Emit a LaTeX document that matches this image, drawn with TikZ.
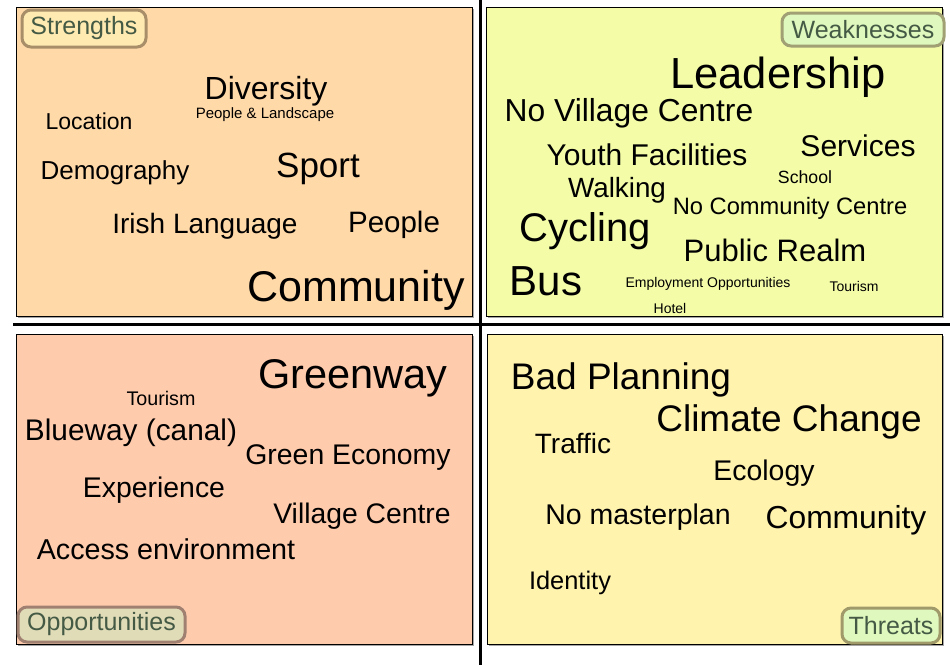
\documentclass[tikz,border=0pt]{standalone}
\usepackage{fontspec}
\setmainfont{Liberation Sans}
\begin{document}
\begin{tikzpicture}[x=1pt,y=-1pt,
  word/.style={inner sep=0pt, anchor=base, text=black},
  quad/.style={draw=black, line width=1pt},
  tag/.style={draw, line width=3pt, rounded corners=9pt, inner sep=0pt, text=tagtext, font=\fontsize{25}{25}\selectfont},
  sep/.style={line width=3.5pt, draw=black}
]
\definecolor{qS}{HTML}{FFD9A8}
\definecolor{qW}{HTML}{F4FCA8}
\definecolor{qO}{HTML}{FFCBAD}
\definecolor{qT}{HTML}{FFF3AE}
\definecolor{tagtext}{HTML}{455A45}
\useasboundingbox (0,0) rectangle (950,665);
\fill[white] (0,0) rectangle (950,665);
% shadows
\foreach \a/\b/\c/\d in {16/7/472/316, 486/7/942/316, 16/334/472/644, 487/334/942/644}
  \fill[black!35] (\a+1.5,\b+1.5) rectangle (\c+1.5,\d+1.5);
% quadrants
\draw[quad, fill=qS] (16,7) rectangle (472,316);
\draw[quad, fill=qW] (486,7) rectangle (942,316);
\draw[quad, fill=qO] (16,334) rectangle (472,644);
\draw[quad, fill=qT] (487,334) rectangle (942,644);
% separators
\coordinate (vt) at (480.5,0);
\coordinate (vb) at (480.5,665);
\coordinate (hl) at (13,324.5);
\coordinate (hr) at (950,324.5);
\draw[sep] (vt) -- (vb);
\draw[sep] (hl) -- (hr);
% tags
\node[tag, draw={rgb,255:red,168;green,143;blue,106}, fill={rgb,255:red,255;green,234;blue,178}, minimum width=124pt, minimum height=37pt] (tS) at (84,28.5) {Strengths};
\node[tag, draw={rgb,255:red,160;green,160;blue,116}, fill={rgb,255:red,222;green,248;blue,190}, minimum width=162pt, minimum height=33pt] (tW) at (863,29.5) {Weaknesses};
\node[tag, draw={rgb,255:red,160;green,128;blue,112}, fill={rgb,255:red,224;green,220;blue,184}, minimum width=167pt, minimum height=35pt] (tO) at (101.5,624.5) {Opportunities};
\node[tag, draw={rgb,255:red,160;green,154;blue,106}, fill={rgb,255:red,222;green,248;blue,190}, minimum width=98pt, minimum height=35pt] (tT) at (891,625.5) {Threats};
% Strengths
\node[word, text depth=0pt, font=\fontsize{32}{32}\selectfont] (s1) at (266,99.5) {Diversity};
\node[word, font=\fontsize{15}{15}\selectfont] (s2) at (265,118) {People \& Landscape};
\node[word, font=\fontsize{23}{23}\selectfont] (s3) at (89,129) {Location};
\node[word, font=\fontsize{26}{26}\selectfont] (s4) at (115,179) {Demography};
\node[word, font=\fontsize{35}{35}\selectfont] (s5) at (318,177.6) {Sport};
\node[word, font=\fontsize{28}{28}\selectfont] (s6) at (205,233) {Irish Language};
\node[word, font=\fontsize{29.5}{29.5}\selectfont] (s7) at (394,232.6) {People};
\node[word, font=\fontsize{43}{43}\selectfont] (s8) at (356,301.5) {Community};
% Weaknesses
\node[word, font=\fontsize{43.5}{43.5}\selectfont] (w1) at (778,88.7) {Leadership};
\node[word, font=\fontsize{31.8}{31.8}\selectfont] (w2) at (629,121.5) {No Village Centre};
\node[word, font=\fontsize{30}{30}\selectfont] (w3) at (647,165) {Youth Facilities};
\node[word, font=\fontsize{30}{30}\selectfont] (w4) at (858,156) {Services};
\node[word, font=\fontsize{17.7}{17.7}\selectfont] (w5) at (805,183.4) {School};
\node[word, font=\fontsize{27.8}{27.8}\selectfont] (w6) at (617,197) {Walking};
\node[word, font=\fontsize{23.7}{23.7}\selectfont] (w7) at (790,214.5) {No Community Centre};
\node[word, font=\fontsize{40}{40}\selectfont] (w8) at (585,241.4) {Cycling};
\node[word, font=\fontsize{31}{31}\selectfont] (w9) at (775,261) {Public Realm};
\node[word, font=\fontsize{42}{42}\selectfont] (w10) at (546,295) {Bus};
\node[word, font=\fontsize{14}{14}\selectfont] (w11) at (708,287) {Employment Opportunities};
\node[word, font=\fontsize{14}{14}\selectfont] (w12) at (854,291) {Tourism};
\node[word, font=\fontsize{14}{14}\selectfont] (w13) at (670,313) {Hotel};
% Opportunities
\node[word, font=\fontsize{41.5}{41.5}\selectfont] (o1) at (353,388) {Greenway};
\node[word, font=\fontsize{19.7}{19.7}\selectfont] (o2) at (161,405) {Tourism};
\node[word, font=\fontsize{29.8}{29.8}\selectfont] (o3) at (131,440.7) {Blueway (canal)};
\node[word, font=\fontsize{28.4}{28.4}\selectfont] (o4) at (348,464) {Green Economy};
\node[word, font=\fontsize{28.4}{28.4}\selectfont] (o5) at (154,497) {Experience};
\node[word, font=\fontsize{28.3}{28.3}\selectfont] (o6) at (362,523) {Village Centre};
\node[word, font=\fontsize{28.7}{28.7}\selectfont] (o7) at (166,559) {Access environment};
% Threats
\node[word, font=\fontsize{37}{37}\selectfont] (t1) at (621,389) {Bad Planning};
\node[word, font=\fontsize{37}{37}\selectfont] (t2) at (789,431) {Climate Change};
\node[word, font=\fontsize{28}{28}\selectfont] (t3) at (573,453) {Traffic};
\node[word, font=\fontsize{28.4}{28.4}\selectfont] (t4) at (764,480) {Ecology};
\node[word, font=\fontsize{28.5}{28.5}\selectfont] (t5) at (638,524) {No masterplan};
\node[word, font=\fontsize{31.8}{31.8}\selectfont] (t6) at (846,528) {Community};
\node[word, font=\fontsize{25.4}{25.4}\selectfont] (t7) at (570,589) {Identity};
\end{tikzpicture}
\end{document}
